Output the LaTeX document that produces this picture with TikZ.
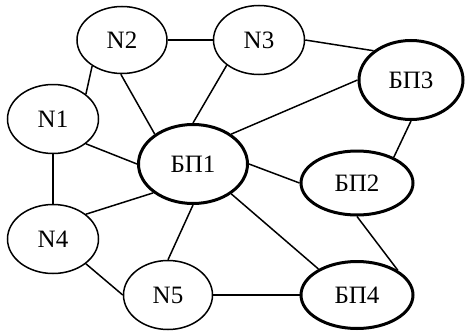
\documentclass[tikz,border=0pt]{standalone}
\usepackage{fontspec}
\setmainfont{Liberation Serif}
\usetikzlibrary{shapes.geometric}
\begin{document}
\begin{tikzpicture}[x=1pt,y=-1pt,
  nd/.style={ellipse,draw,line width=1.5pt,inner sep=0pt,font=\fontsize{25}{25}\selectfont},
  bp/.style={nd,line width=3pt},
  ln/.style={line width=1.5pt}]
\useasboundingbox (0,0) rectangle (466,332);
\node[nd,minimum width=90pt,minimum height=67pt] (N2) at (122,40) {N2};
\node[nd,minimum width=91pt,minimum height=69pt] (N3) at (259,40) {N3};
\node[nd,minimum width=91pt,minimum height=69pt] (N1) at (53,119) {N1};
\node[nd,minimum width=91pt,minimum height=69pt] (N4) at (53,239) {N4};
\node[nd,minimum width=89pt,minimum height=69pt] (N5) at (168,295) {N5};
\node[bp,minimum width=109pt,minimum height=79pt] (B1) at (193,164) {БП1};
\node[bp,minimum width=104pt,minimum height=79pt] (B3) at (411,80) {БП3};
\node[bp,minimum width=112pt,minimum height=64pt] (B2) at (357,183) {БП2};
\node[bp,minimum width=112pt,minimum height=67pt] (B4) at (357,295) {БП4};
\draw[ln] (N2.0) -- (N3.180);
\draw[ln] (N2.221) -- (N1.37);
\draw[ln] (N2.268) -- (B1.142);
\draw[ln] (N3.218) -- (B1.90);
\draw[ln] (N3.0) -- (B3.142);
\draw[ln] (N1.323) -- (B1.180);
\draw[ln] (N1.270) -- (N4.90);
\draw[ln] (B1.38) -- (B3.180);
\draw[ln] (B1.0) -- (B2.180);
\draw[ln] (B3.270) -- (B2.35);
\draw[ln] (B1.-38) -- (B4.146);
\draw[ln] (B2.270) -- (B4.31);
\draw[ln] (N5.0) -- (B4.180);
\draw[ln] (B1.216) -- (N4.37);
\draw[ln] (B1.270) -- (N5.90);
\draw[ln] (N4.323) -- (N5.180);
\end{tikzpicture}
\end{document}
